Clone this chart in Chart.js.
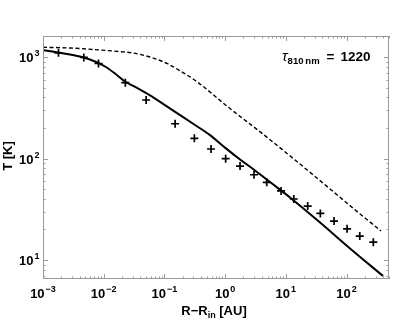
<!DOCTYPE html>
<html>
<head>
<meta charset="utf-8">
<script src="https://cdn.jsdelivr.net/npm/chart.js@4/dist/chart.umd.min.js"></script>
<style>
html, body { margin: 0; padding: 0; background: #fff; }
#wrap { width: 415px; height: 320px; }
</style>
</head>
<body>
<div id="wrap"><canvas id="c" width="415" height="320"></canvas></div>
<script>
// measured points (+ markers)
var pointR = [0.0018, 0.0047, 0.0082, 0.0227, 0.050, 0.150, 0.311, 0.586, 1.02, 1.76, 2.99, 4.84,
  8.34, 13.5, 22.9, 37.0, 62.2, 102, 165, 276];
var pointT = [1100, 990, 863, 558, 377, 220, 158, 124, 99.5, 84.3, 69.2, 58.3,
  47.9, 39.9, 34.0, 28.8, 24.2, 20.3, 17.2, 15.0];

// solid model curve
var solidR = [0.001, 0.00191, 0.00407, 0.0072, 0.0105, 0.01535, 0.02244, 0.0354, 0.0579, 0.102,
  0.181, 0.319, 0.564, 0.995, 1.76, 3.11, 5.49, 11.7, 36.6, 114, 399];
var solidT = [1172, 1100, 1011, 903, 806, 687, 574, 495, 418, 336,
  268, 214, 170, 128, 97.8, 76.2, 58.6, 41.3, 23.4, 13.0, 6.95];

// dashed model curve
var dashR = [0.001, 0.00279, 0.00869, 0.01858, 0.0304, 0.0579, 0.110, 0.202, 0.358, 1.12,
  4.05, 14.2, 53.5, 167, 370];
var dashT = [1246, 1227, 1172, 1130, 1094, 1000, 863, 703, 561, 321,
  177, 96.6, 50.1, 28.4, 19.3];

// axes
var xTickExp = [-3, -2, -1, 0, 1, 2];
var yTickExp = [1, 2, 3];
var xMin = 1e-3, xMax = 500;
var yMin = 6.5, yMax = 1610;

function pairs(xs, ys) {
  return xs.map(function (x, i) { return { x: x, y: ys[i] }; });
}

var FONT = '"Liberation Sans", Arial, sans-serif';

// "10" with a raised exponent
function drawPow(ctx, exp, x, y, align) {
  var base = '10', sup = (exp < 0 ? '\u2212' + (-exp) : '' + exp);
  ctx.font = 'bold 13px ' + FONT;
  var wb = ctx.measureText(base).width;
  ctx.font = 'bold 9px ' + FONT;
  var ws = ctx.measureText(sup).width;
  var w = wb + ws + 1;
  var x0 = align === 'right' ? x - w : x - w / 2;
  ctx.textAlign = 'left';
  ctx.textBaseline = 'alphabetic';
  ctx.font = 'bold 13px ' + FONT;
  ctx.fillText(base, x0, y);
  ctx.font = 'bold 9px ' + FONT;
  ctx.fillText(sup, x0 + wb + 1, y - 6);
}

var framePlugin = {
  id: 'frame',
  afterDraw: function (chart) {
    var ctx = chart.ctx, a = chart.chartArea;
    var xs = chart.scales.x, ys = chart.scales.y;
    ctx.save();
    ctx.strokeStyle = '#9a9a9a';
    ctx.lineWidth = 1;
    ctx.strokeRect(a.left + 0.5, a.top + 0.5, a.right - a.left - 1, a.bottom - a.top - 1);

    // ticks inside the frame, all four sides
    ctx.beginPath();
    var e, m, v, p, len;
    for (e = -3; e <= 3; e++) {
      for (m = 1; m <= 9; m++) {
        v = m * Math.pow(10, e);
        if (v < xMin || v > xMax) continue;
        p = Math.round(xs.getPixelForValue(v)) + 0.5;
        len = m === 1 ? 5 : 2.5;
        ctx.moveTo(p, a.bottom); ctx.lineTo(p, a.bottom - len);
        ctx.moveTo(p, a.top); ctx.lineTo(p, a.top + len);
      }
    }
    for (e = 0; e <= 3; e++) {
      for (m = 1; m <= 9; m++) {
        v = m * Math.pow(10, e);
        if (v < yMin || v > yMax) continue;
        p = Math.round(ys.getPixelForValue(v)) + 0.5;
        len = m === 1 ? 5 : 2.5;
        ctx.moveTo(a.left, p); ctx.lineTo(a.left + len, p);
        ctx.moveTo(a.right, p); ctx.lineTo(a.right - len, p);
      }
    }
    ctx.stroke();

    // tick labels
    ctx.fillStyle = '#000';
    xTickExp.forEach(function (ex) {
      drawPow(ctx, ex, xs.getPixelForValue(Math.pow(10, ex)), 298, 'center');
    });
    yTickExp.forEach(function (ex) {
      drawPow(ctx, ex, 39.5, ys.getPixelForValue(Math.pow(10, ex)) + 5, 'right');
    });

    // axis titles
    ctx.save();
    ctx.translate(12, 156);
    ctx.rotate(-Math.PI / 2);
    ctx.font = 'bold 13px ' + FONT;
    ctx.textAlign = 'center';
    ctx.fillText('T [K]', 0, 0);
    ctx.restore();

    ctx.textAlign = 'left';
    ctx.font = 'bold 13px ' + FONT;
    var t1 = 'R\u2212R', t3 = ' [AU]';
    var w1 = ctx.measureText(t1).width, w3 = ctx.measureText(t3).width;
    ctx.font = 'bold 9px ' + FONT;
    var w2 = ctx.measureText('in').width;
    var tx = 214 - (w1 + w2 + w3) / 2, ty = 315;
    ctx.font = 'bold 13px ' + FONT;
    ctx.fillText(t1, tx, ty);
    ctx.font = 'bold 9px ' + FONT;
    ctx.fillText('in', tx + w1, ty + 3);
    ctx.font = 'bold 13px ' + FONT;
    ctx.fillText(t3, tx + w1 + w2, ty);

    // optical depth note
    var nx = 282, ny = 61;
    ctx.font = 'italic 15px ' + FONT;
    ctx.fillText('\u03c4', nx, ny);
    nx += ctx.measureText('\u03c4').width;
    ctx.font = 'bold 9.5px ' + FONT;
    ctx.fillText('810\u2009nm', nx, ny + 3);
    nx += ctx.measureText('810\u2009nm').width + 7;
    ctx.font = 'bold 13.5px ' + FONT;
    ctx.fillText('=', nx, ny);
    nx += ctx.measureText('=').width + 6;
    ctx.fillText('1220', nx, ny);
    ctx.restore();
  }
};

new Chart(document.getElementById('c'), {
  type: 'scatter',
  data: {
    datasets: [
      {
        data: pairs(dashR, dashT),
        showLine: true,
        borderColor: '#000',
        borderWidth: 1.4,
        borderDash: [4, 2.5],
        pointRadius: 0,
        cubicInterpolationMode: 'monotone'
      },
      {
        data: pairs(solidR, solidT),
        showLine: true,
        borderColor: '#000',
        borderWidth: 2,
        pointRadius: 0,
        cubicInterpolationMode: 'monotone'
      },
      {
        data: pairs(pointR, pointT),
        showLine: false,
        pointStyle: 'cross',
        pointRadius: 4,
        borderColor: '#000',
        borderWidth: 1.7
      }
    ]
  },
  options: {
    responsive: false,
    animation: false,
    devicePixelRatio: 1,
    layout: { padding: { left: 0, top: 36, right: 26, bottom: 0 } },
    plugins: { legend: { display: false }, tooltip: { enabled: false } },
    scales: {
      x: {
        type: 'logarithmic', min: xMin, max: xMax,
        grid: { display: false }, border: { display: false },
        ticks: { display: false },
        afterFit: function (s) { s.height = 41; }
      },
      y: {
        type: 'logarithmic', min: yMin, max: yMax,
        grid: { display: false }, border: { display: false },
        ticks: { display: false },
        afterFit: function (s) { s.width = 43; }
      }
    }
  },
  plugins: [framePlugin]
});
</script>
</body>
</html>
